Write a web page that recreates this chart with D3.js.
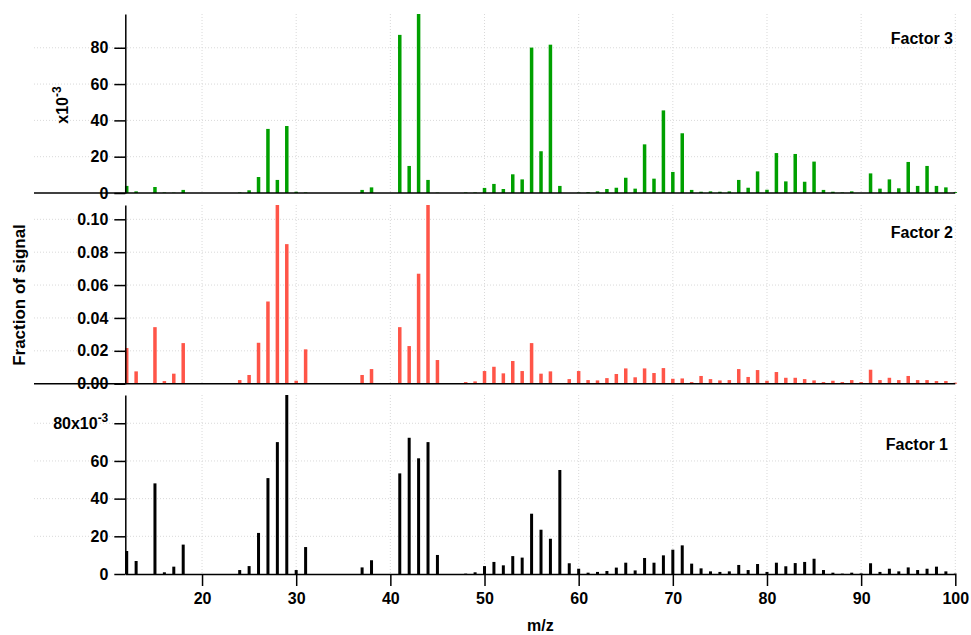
<!DOCTYPE html>
<html>
<head>
<meta charset="utf-8">
<script src="https://cdn.jsdelivr.net/npm/d3@7"></script>
<style>
  body { margin: 0; background: #fff; }
  svg { display: block; font-family: "Liberation Sans", Arial, sans-serif; }
</style>
</head>
<body>
<svg id="chart" width="971" height="635"></svg>
<script>
// m/z values that carry a bar
var mz = [12, 13, 15, 16, 17, 18, 24, 25, 26, 27, 28, 29, 30, 31, 37, 38, 41, 42, 43, 44, 45,
  48, 49, 50, 51, 52, 53, 54, 55, 56, 57, 58, 59, 60, 61, 62, 63, 64, 65, 66, 67, 68, 69, 70,
  71, 72, 73, 74, 75, 76, 77, 78, 79, 80, 81, 82, 83, 84, 85, 86, 87, 88, 89, 90, 91, 92, 93,
  94, 95, 96, 97, 98, 99, 100];

// fraction of signal, in units of 1e-3
var factor3 = [3.9, 0.9, 3.3, 0.3, 0.2, 1.7, 0.3, 1.5, 8.8, 35.3, 7.2, 36.9, 0.7, 0.3, 1.7, 3.1,
  87.1, 14.9, 98.6, 7.2, 0.2, 0.3, 0.3, 2.8, 5.0, 2.2, 10.3, 7.5, 80.1, 23.0, 81.7, 3.9, 0, 0.3,
  0.5, 0.9, 2.2, 2.9, 8.4, 2.4, 26.8, 7.9, 45.5, 11.6, 32.9, 1.7, 0.7, 0.9, 0.7, 0.9, 7.2, 2.9,
  11.9, 1.8, 22.0, 6.4, 21.5, 6.2, 17.3, 1.7, 0.7, 0.3, 0.9, 0, 10.8, 2.4, 7.5, 2.6, 17.1, 3.9,
  14.9, 3.9, 3.1, 0.5];
var factor2 = [21.7, 7.5, 34.4, 1.6, 6.1, 24.7, 2.2, 5.3, 24.9, 50.0, 108.7, 84.9, 1.8, 20.9, 5.3,
  8.9, 34.4, 22.9, 66.9, 108.7, 14.4, 1.0, 1.4, 7.7, 10.3, 6.3, 13.8, 7.7, 24.7, 6.1, 7.5, 0.2,
  2.8, 7.7, 2.2, 2.0, 3.4, 5.9, 9.3, 3.9, 9.3, 6.5, 9.5, 3.0, 3.2, 1.0, 4.7, 2.8, 2.0, 2.2, 8.9,
  4.1, 8.3, 1.8, 7.1, 3.6, 3.6, 2.8, 2.0, 1.0, 1.8, 1.0, 2.2, 1.0, 8.5, 2.2, 3.6, 2.2, 4.7, 2.2,
  2.2, 1.6, 1.6, 0.6];
var factor1 = [12.2, 6.9, 48.1, 0.9, 3.9, 15.6, 2.1, 4.2, 21.8, 50.9, 70.0, 95.0, 2.1, 14.3, 3.5,
  7.3, 53.4, 72.3, 61.4, 70.0, 10.1, 0.2, 0.9, 4.2, 6.4, 4.6, 9.5, 8.7, 32.0, 23.5, 18.7, 55.2,
  5.7, 2.8, 0.7, 1.1, 1.6, 3.4, 6.0, 1.9, 8.5, 6.0, 9.9, 12.9, 15.2, 5.5, 3.0, 1.4, 1.1, 1.4, 4.8,
  2.1, 5.3, 1.1, 6.0, 4.1, 5.8, 6.4, 8.1, 2.1, 0.7, 0.2, 0.7, 0.3, 5.7, 1.1, 2.8, 1.4, 3.5, 2.1,
  2.8, 3.9, 1.4, 0.2];

var xTicks = [20, 30, 40, 50, 60, 70, 80, 90, 100];
var yTicks3 = [0, 20, 40, 60, 80];
var yTicks2 = [0, 20, 40, 60, 80, 100];
var yTicks1 = [0, 20, 40, 60, 80];

var FONT = '"Liberation Sans", Arial, sans-serif';
var svg = d3.select('#chart');
var left = 125.3, right = 955.3, gridLeft = 34;

var x = d3.scaleLinear().domain([11.85, 100]).range([left, right]);

function styleAxis(a) {
  a.attr('font-family', FONT).attr('font-size', 16).attr('font-weight', 'bold');
  a.select('.domain').attr('stroke-width', 1.5);
  a.selectAll('.tick line').attr('stroke-width', 1.5);
  a.selectAll('.tick text').attr('fill', '#000');
}

var panels = [
  {name: 'Factor 3', vals: factor3, ticks: yTicks3, max: 98.6, top: 14, bottom: 193,
   color: '#00a000', bw: 3.5, labelY: 44,
   fmt: function(d) { return d; }},
  {name: 'Factor 2', vals: factor2, ticks: yTicks2, max: 108.7, top: 205, bottom: 383.7,
   color: '#ff5548', bw: 3.5, labelY: 238,
   fmt: function(d) { return d3.format('.2f')(d / 1000); }},
  {name: 'Factor 1', vals: factor1, ticks: yTicks1, max: 95.0, top: 395, bottom: 574,
   color: '#000', bw: 3, labelY: 450, labelX: 948,
   fmt: function(d) { return d === 80 ? '80x10' : d; }}
];

panels.forEach(function(p, pi) {
  var y = d3.scaleLinear().domain([0, p.max]).range([p.bottom, p.top]);
  var g = svg.append('g');

  // dotted grid
  g.selectAll('.hgrid').data(p.ticks.filter(function(d) { return d > 0; }))
    .enter().append('line')
    .attr('x1', gridLeft).attr('x2', right)
    .attr('y1', function(d) { return y(d); }).attr('y2', function(d) { return y(d); })
    .attr('stroke', '#d9d9d9').attr('stroke-width', 1).attr('stroke-dasharray', '1,2');
  g.selectAll('.vgrid').data(xTicks)
    .enter().append('line')
    .attr('x1', function(d) { return x(d); }).attr('x2', function(d) { return x(d); })
    .attr('y1', p.top).attr('y2', p.bottom)
    .attr('stroke', '#d9d9d9').attr('stroke-width', 1).attr('stroke-dasharray', '1,2');

  // bars
  g.selectAll('rect').data(p.vals)
    .enter().append('rect')
    .attr('x', function(d, i) { return x(mz[i]) - p.bw / 2; })
    .attr('y', function(d) { return y(d); })
    .attr('width', p.bw)
    .attr('height', function(d) { return y(0) - y(d); })
    .attr('fill', p.color);

  // baseline
  if (pi < 2) {
    g.append('line')
      .attr('x1', gridLeft).attr('x2', right)
      .attr('y1', y(0)).attr('y2', y(0))
      .attr('stroke', '#000').attr('stroke-width', 1.5);
  } else {
    var xAxis = g.append('g')
      .attr('transform', 'translate(0,' + y(0) + ')')
      .call(d3.axisBottom(x).tickValues(xTicks).tickSize(12).tickSizeOuter(0).tickPadding(7));
    styleAxis(xAxis);
  }

  // left axis
  var yAxis = g.append('g')
    .attr('transform', 'translate(' + left + ',0)')
    .call(d3.axisLeft(y).tickValues(p.ticks).tickSize(11).tickSizeOuter(0).tickPadding(6)
      .tickFormat(p.fmt));
  styleAxis(yAxis);
  if (pi === 2) {
    yAxis.selectAll('.tick text').filter(function(d) { return d === 80; })
      .append('tspan').attr('dy', '-0.6em').attr('font-size', 12).text('-3');
  }

  // factor label
  g.append('text')
    .attr('x', p.labelX || 953).attr('y', p.labelY)
    .attr('text-anchor', 'end')
    .attr('font-weight', 'bold').attr('font-size', 16)
    .text(p.name);
});

// x10^-3 for the top panel
var sc = svg.append('text')
  .attr('transform', 'translate(68,105) rotate(-90)')
  .attr('text-anchor', 'middle')
  .attr('font-weight', 'bold').attr('font-size', 16)
  .text('x10');
sc.append('tspan').attr('dy', '-0.6em').attr('font-size', 12).text('-3');

svg.append('text')
  .attr('transform', 'translate(25,295) rotate(-90)')
  .attr('text-anchor', 'middle')
  .attr('font-weight', 'bold').attr('font-size', 17)
  .text('Fraction of signal');

svg.append('text')
  .attr('x', (left + right) / 2).attr('y', 631)
  .attr('text-anchor', 'middle')
  .attr('font-weight', 'bold').attr('font-size', 16)
  .text('m/z');
</script>
</body>
</html>
